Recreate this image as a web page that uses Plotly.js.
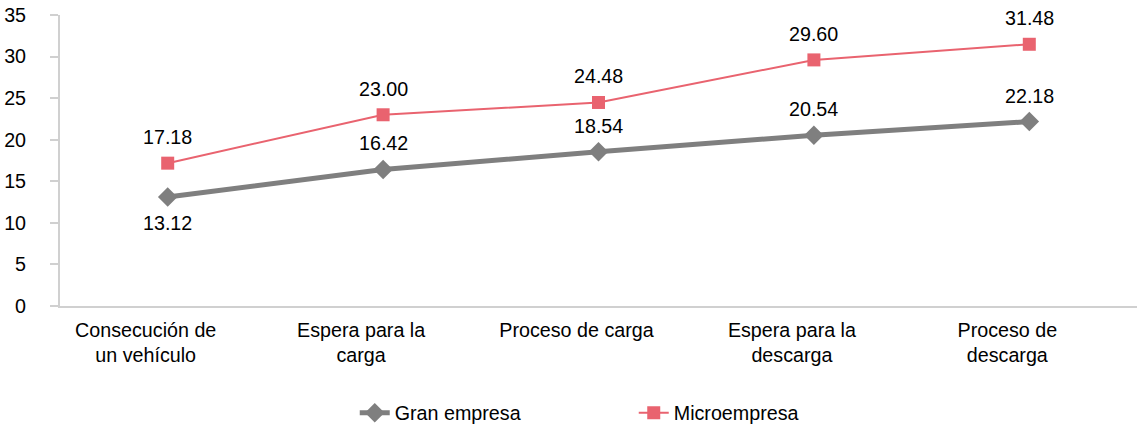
<!DOCTYPE html>
<html><head><meta charset="utf-8">
<script src="https://cdn.plot.ly/plotly-3.0.1.min.js"></script>
<style>html,body{margin:0;padding:0;background:#fff}#chart{width:1137px;height:427px}</style>
</head><body><div id="chart"></div>
<script>
const categories = ["Consecución de<br>un vehículo", "Espera para la<br>carga", "Proceso de carga", "Espera para la<br>descarga", "Proceso de<br>descarga"];
const granEmpresa = [13.12, 16.42, 18.54, 20.54, 22.18];
const microempresa = [17.18, 23.00, 24.48, 29.60, 31.48];
const granLabelBelow = [true, false, false, false, false];
const yTicks = [0, 5, 10, 15, 20, 25, 30, 35];

const font = {family: "Liberation Sans, Arial, sans-serif", size: 19.7, color: "#000"};

const traces = [
  {x: categories, y: granEmpresa, name: "Gran empresa", type: "scatter", mode: "lines+markers",
   line: {color: "#7f7f7f", width: 5}, marker: {symbol: "diamond", size: 15, color: "#7f7f7f"}},
  {x: categories, y: microempresa, name: "Microempresa", type: "scatter", mode: "lines+markers",
   line: {color: "#e9636f", width: 2}, marker: {symbol: "square", size: 13, color: "#e9636f"}}
];

const annotations = [];
granEmpresa.forEach((v, i) => annotations.push({x: categories[i], y: v, xref: "x", yref: "y",
  text: v.toFixed(2), showarrow: false, yshift: granLabelBelow[i] ? -26 : 26, font: font}));
microempresa.forEach((v, i) => annotations.push({x: categories[i], y: v, xref: "x", yref: "y",
  text: v.toFixed(2), showarrow: false, yshift: 26, font: font}));

const layout = {
  width: 1137, height: 427,
  margin: {l: 60, r: 0, t: 15, b: 121},
  paper_bgcolor: "#fff", plot_bgcolor: "#fff",
  font: font,
  showlegend: true,
  legend: {orientation: "h", xref: "container", yref: "container", x: 0.312, xanchor: "left",
           y: 0.0328, yanchor: "middle", font: font, entrywidth: 234, entrywidthmode: "pixels",
           tracegroupgap: 0, bgcolor: "rgba(0,0,0,0)"},
  xaxis: {type: "category", range: [-0.5, 4.5], showgrid: false, zeroline: false,
          showline: true, linecolor: "#d0d0d0", linewidth: 2, ticks: "", tickfont: font,
          ticklabelshift: -22, ticklabelstandoff: 5, automargin: false},
  yaxis: {range: [0, 35], tickvals: yTicks, showgrid: false, zeroline: false,
          showline: true, linecolor: "#d0d0d0", linewidth: 2, ticks: "outside", ticklen: 8,
          tickcolor: "#d0d0d0", tickwidth: 2, tickfont: font, ticklabelstandoff: 20, automargin: false},
  annotations: annotations
};

Plotly.newPlot("chart", traces, layout, {displayModeBar: false, staticPlot: true});
</script></body></html>
